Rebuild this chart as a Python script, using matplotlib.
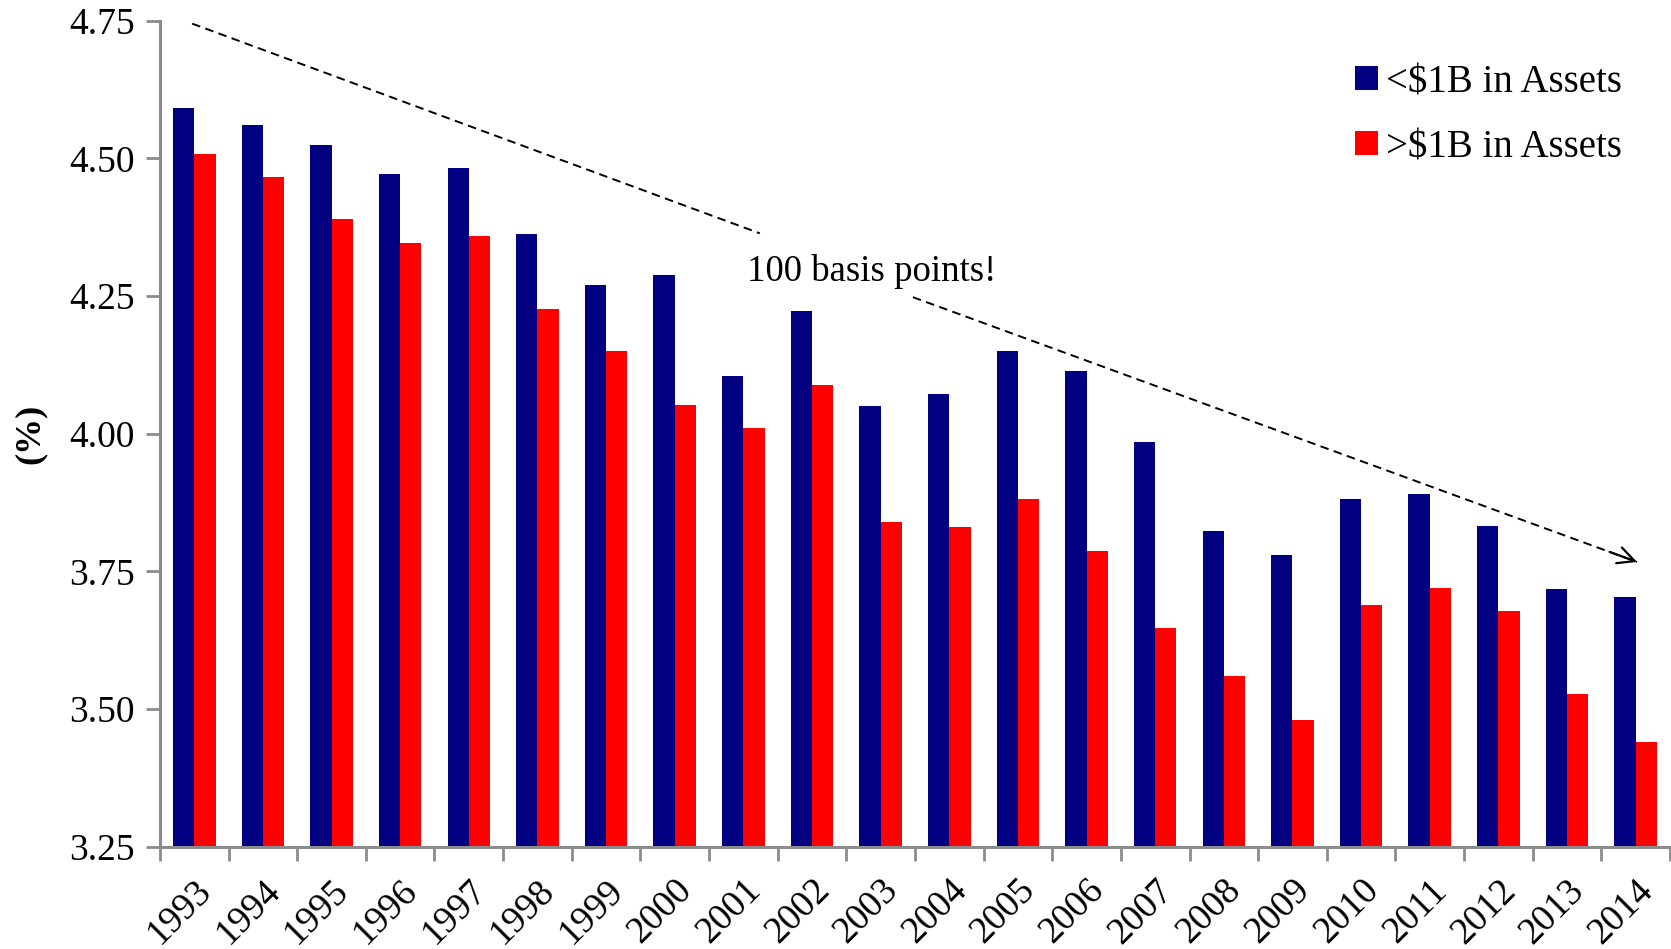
import matplotlib
matplotlib.use("Agg")
import matplotlib.pyplot as plt
from matplotlib.patches import Patch
import numpy as np

plt.rcParams["font.family"] = ["Liberation Serif", "DejaVu Serif"]

years = [str(y) for y in range(1993, 2015)]
small_banks = [4.591, 4.560, 4.524, 4.471, 4.483, 4.363, 4.270, 4.289, 4.104, 4.222, 4.051,
               4.073, 4.150, 4.113, 3.984, 3.823, 3.780, 3.881, 3.891, 3.833, 3.718, 3.703]
large_banks = [4.508, 4.467, 4.390, 4.347, 4.359, 4.227, 4.150, 4.053, 4.011, 4.088, 3.840,
               3.831, 3.881, 3.786, 3.647, 3.560, 3.480, 3.689, 3.720, 3.678, 3.527, 3.440]
series_labels = ["<$1B in Assets", ">$1B in Assets"]
yticks = [3.25, 3.50, 3.75, 4.00, 4.25, 4.50, 4.75]

# trend arrow, split around the annotation text
trend_start = (-0.03, 4.745)
trend_gap = [(8.24, 4.364), (10.47, 4.248)]
trend_end = (21.02, 3.767)
trend_text = "100 basis points!"
trend_text_pos = (9.87, 4.295)

NAVY = "#000080"
RED = "#ff0000"
GRAY = "#8c8c8c"
DASH = (0, (4.4, 2.8))

fig = plt.figure(figsize=(16.71, 9.49), dpi=100)
ax = fig.add_axes([0.0957, 0.108, 0.9037, 0.870])

x = np.arange(len(years))
w = 0.31
ax.bar(x - w / 2, small_banks, w, color=NAVY, bottom=0)
ax.bar(x + w / 2, large_banks, w, color=RED, bottom=0)

ax.set_xlim(-0.5, len(years) - 0.5)
ax.set_ylim(3.25, 4.75)

# y axis
ax.set_yticks(yticks)
ax.set_yticklabels([f"{v:.2f}" for v in yticks], fontsize=27)
ax.set_ylabel("(%)", fontsize=26, fontweight="bold", labelpad=16)

# x axis: ticks at group boundaries, labels at group centers
ax.set_xticks(np.arange(len(years) + 1) - 0.5)
ax.set_xticklabels([])
ax.set_xticks(x, minor=True)
ax.set_xticklabels(years, minor=True, fontsize=27, rotation=45,
                   ha="right", va="top", rotation_mode="anchor")
ax.tick_params(axis="x", which="minor", length=0, pad=19)
ax.tick_params(axis="both", which="major", length=10, width=2, color=GRAY)
ax.tick_params(axis="y", pad=8)

for side in ("top", "right"):
    ax.spines[side].set_visible(False)
for side in ("left", "bottom"):
    ax.spines[side].set_color(GRAY)
    ax.spines[side].set_linewidth(2.2)

# dashed trend line, solid open arrow head at the end
ax.plot([trend_start[0], trend_gap[0][0]], [trend_start[1], trend_gap[0][1]],
        color="black", lw=1.4, ls=DASH, clip_on=False)
ax.plot([trend_gap[1][0], trend_end[0]], [trend_gap[1][1], trend_end[1]],
        color="black", lw=1.4, ls=DASH, clip_on=False)
slope = (trend_end[1] - trend_gap[1][1]) / (trend_end[0] - trend_gap[1][0])
ax.annotate("", xy=trend_end, xytext=(trend_end[0] - 0.4, trend_end[1] - 0.4 * slope),
            arrowprops=dict(arrowstyle="->,head_length=0.6,head_width=0.3",
                            color="black", lw=1.6, mutation_scale=20,
                            shrinkA=0, shrinkB=0))
ax.text(trend_text_pos[0], trend_text_pos[1], trend_text, fontsize=26.5,
        ha="center", va="center")

handles = [Patch(facecolor=NAVY), Patch(facecolor=RED)]
fig.legend(handles, series_labels, loc="upper left", bbox_to_anchor=(0.7995, 0.953),
           frameon=False, fontsize=28, handlelength=0.58, handleheight=0.58,
           handletextpad=0.2, labelspacing=0.72, borderpad=0)

fig.savefig("out.png", dpi=100)
